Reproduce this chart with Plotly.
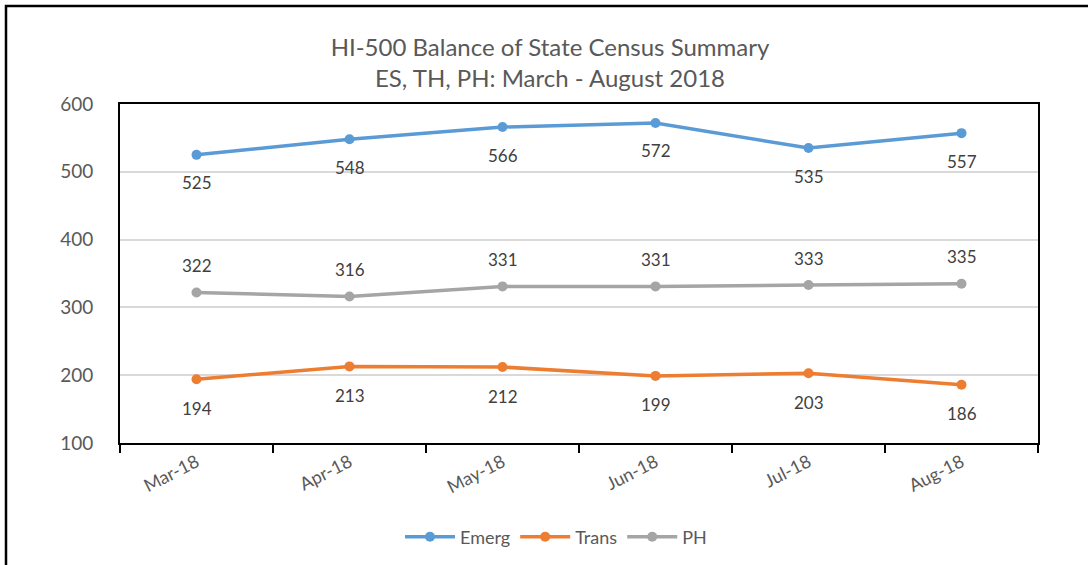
import plotly.graph_objects as go

months = ["Mar-18", "Apr-18", "May-18", "Jun-18", "Jul-18", "Aug-18"]
emerg = [525, 548, 566, 572, 535, 557]
trans = [194, 213, 212, 199, 203, 186]
ph = [322, 316, 331, 331, 333, 335]

W, H = 1088, 565
L, R, T, B = 120, 1038, 104, 443  # plot box in pixels

def px(x):
    return (x - L) / (R - L)

def py(y):
    return (B - y) / (B - T)

FONT = "Lato, Open Sans, sans-serif"
fig = go.Figure()
series = [
    ("Emerg", emerg, "#5B9BD5", -28),
    ("Trans", trans, "#ED7D31", -29),
    ("PH", ph, "#A5A5A5", 27),
]
for name, vals, col, shift in series:
    fig.add_trace(go.Scatter(
        x=months, y=vals, name=name, mode="lines+markers",
        line=dict(color=col, width=3.5),
        marker=dict(color=col, size=10),
        cliponaxis=False,
    ))
    for m, v in zip(months, vals):
        fig.add_annotation(x=m, y=v, text=str(v), showarrow=False, yshift=shift,
                           font=dict(family=FONT, size=17, color="#404040"))

fig.update_layout(
    width=W, height=H, autosize=False,
    margin=dict(l=L, r=W - R, t=T, b=H - B, pad=0, autoexpand=False),
    paper_bgcolor="white", plot_bgcolor="white",
    title=dict(
        text="HI-500 Balance of State Census Summary<br>ES, TH, PH: March - August 2018",
        x=550 / W, xanchor="center", y=1 - 56 / H, yanchor="middle",
        font=dict(family=FONT, size=24, color="#595959"),
    ),
    xaxis=dict(
        range=[-0.5, 5.5], tickson="boundaries", ticks="outside", ticklen=8,
        tickcolor="black", tickwidth=2, showgrid=False,
        showline=True, linecolor="black", linewidth=2, mirror=True,
        tickangle=-27, tickfont=dict(family=FONT, size=18, color="#595959"),
        fixedrange=True, automargin=False,
    ),
    yaxis=dict(
        range=[100, 600], dtick=100, showgrid=True, gridcolor="#D9D9D9", gridwidth=1.5,
        showline=True, linecolor="black", linewidth=2, mirror=True,
        ticks="", ticklabelstandoff=21,
        tickfont=dict(family=FONT, size=19, color="#595959"),
        zeroline=False, fixedrange=True, automargin=False,
    ),
    showlegend=True,
    legend=dict(
        orientation="h", x=px(556), xanchor="center",
        y=py(537), yanchor="middle", itemwidth=50,
        font=dict(family=FONT, size=18, color="#595959"),
    ),
)

fig.add_shape(type="rect", xref="paper", yref="paper",
              x0=px(6), x1=px(1110), y0=py(600), y1=py(6),
              line=dict(color="black", width=2.5), fillcolor="rgba(0,0,0,0)", layer="below")

fig.write_html("out.html", config={"displayModeBar": False},
               post_script="document.body.style.margin='0';document.body.style.padding='0';")
